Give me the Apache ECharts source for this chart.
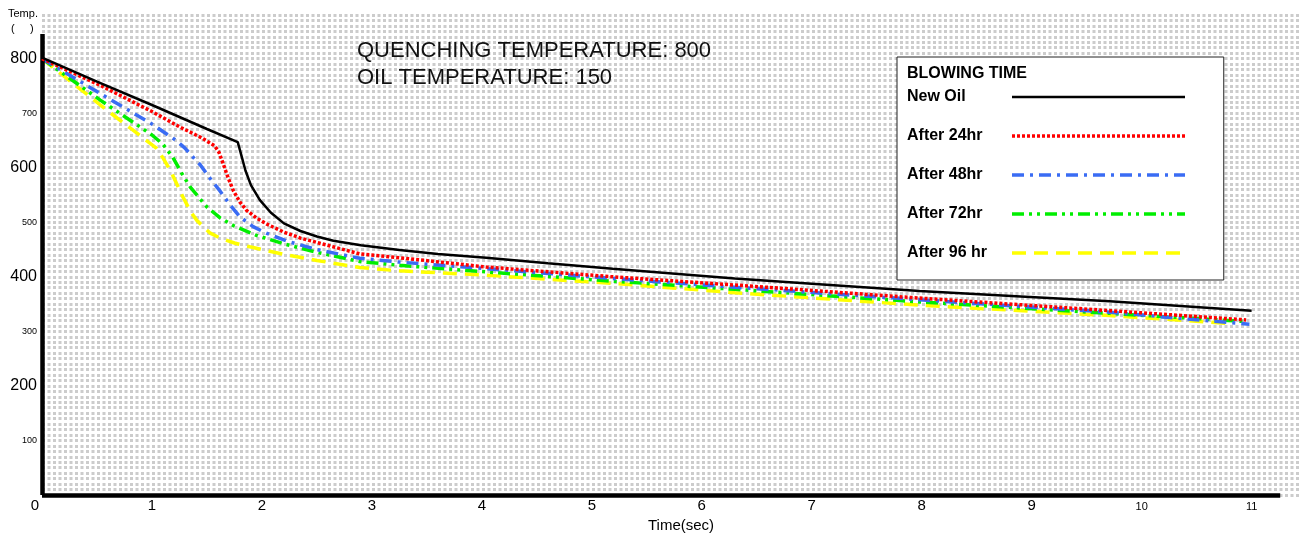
<!DOCTYPE html>
<html>
<head>
<meta charset="utf-8">
<script src="https://cdn.jsdelivr.net/npm/echarts@6/dist/echarts.min.js"></script>
<style>html,body{margin:0;padding:0;background:#fff}#c{width:1308px;height:538px}</style>
</head>
<body>
<div id="c"></div>
<script>
const seriesNames = ['New Oil', 'After 24hr', 'After 48hr', 'After 72hr', 'After 96 hr'];
const xTicks = [0,1,2,3,4,5,6,7,8,9,10,11];
const yMajorTicks = [200,400,600,800];
const yMinorTicks = [100,300,500,700];

const newOil = [[0,802],[0.5,758],[1,715],[1.5,671],[1.78,647],[1.81,625],[1.85,595],[1.9,568],[1.98,541],[2.08,518],[2.2,498],[2.35,484],[2.5,474],[2.65,466],[2.9,458],[3.25,449],[3.6,442],[4.04,435],[4.6,425],[5.19,415],[6.3,397],[7.1,386],[7.98,374],[8.9,364],[9.71,355],[11,338]];
const after24 = [[0,800],[0.53,751],[1.0,703],[1.25,675],[1.45,655],[1.57,640],[1.61,628],[1.65,606],[1.69,583],[1.74,558],[1.8,537],[1.86,522],[1.95,508],[2.04,497],[2.2,482],[2.35,471],[2.65,455],[2.89,442],[3.25,435],[4.04,418],[5.19,400],[6.3,385],[7.98,361],[9.71,338],[10.95,321]];
const after48 = [[0,800],[0.53,736],[1.0,680],[1.22,650],[1.3,636],[1.37,620],[1.44,605],[1.53,580],[1.62,557],[1.71,532],[1.8,510],[1.92,492],[2.04,480],[2.25,464],[2.5,450],[2.89,434],[3.25,427],[4.04,415],[5.19,397],[6.3,381],[7.98,358],[9.71,335],[10.98,313]];
const after72 = [[0,800],[0.53,724],[1.0,660],[1.1,643],[1.19,619],[1.27,590],[1.35,564],[1.5,528],[1.62,508],[1.74,494],[1.95,476],[2.19,461],[2.5,445],[2.89,428],[3.25,421],[4.04,409],[5.19,392],[6.3,377],[7.98,354],[9.71,333],[10.95,318]];
const after96 = [[0,800],[0.53,715],[1.04,636],[1.1,618],[1.17,594],[1.28,547],[1.35,520],[1.41,503],[1.53,480],[1.62,471],[1.75,462],[1.89,455],[2.2,441],[2.5,430],[2.89,417],[3.25,411],[4.04,403],[5.19,388],[6.3,371],[7.98,348],[9.71,329],[10.83,314]];

const FONT = '"Liberation Sans", Arial, sans-serif';
const chart = echarts.init(document.getElementById('c'));

const common = { type: 'line', symbol: 'none', smooth: false, clip: false };

chart.setOption({
  animation: false,
  backgroundColor: '#fff',
  textStyle: { fontFamily: FONT, color: '#000' },
  title: {
    text: 'QUENCHING TEMPERATURE: 800\nOIL TEMPERATURE: 150',
    left: 357, top: 37, padding: 0,
    textStyle: { fontFamily: FONT, fontSize: 22, fontWeight: 'normal', color: '#111', lineHeight: 27 }
  },
  grid: { left: 42, right: 8, top: 15, bottom: 38 },
  xAxis: {
    type: 'value', min: 0, max: 11.44, interval: 1,
    axisLine: { show: false }, axisTick: { show: false }, splitLine: { show: false },
    axisLabel: {
      margin: 3, color: '#000',
      formatter: v => {
        if (!xTicks.includes(v)) return '';
        if (v === 0) return '{z|0}';
        return v >= 10 ? '{s|' + v + '}' : '{b|' + v + '}';
      },
      rich: {
        b: { fontSize: 15, fontFamily: FONT, color: '#000' },
        s: { fontSize: 11, fontFamily: FONT, color: '#000', padding: [3, 0, 0, 0] },
        z: { fontSize: 15, fontFamily: FONT, color: '#000', padding: [0, 14, 0, 0] }
      }
    },
    name: 'Time(sec)', nameLocation: 'middle', nameGap: 23,
    nameTextStyle: { fontSize: 15, color: '#000', fontFamily: FONT, padding: [0, 0, 0, 20] }
  },
  yAxis: {
    type: 'value', min: 0, max: 880, interval: 10,
    axisLine: { show: false }, axisTick: { show: false },
    splitLine: { show: true, lineStyle: { color: '#cccccc', width: 3, type: [3, 2.5] } },
    axisLabel: {
      margin: 5, color: '#000',
      formatter: v => {
        if (yMajorTicks.includes(v)) return '{b|' + v + '}';
        if (yMinorTicks.includes(v)) return '{s|' + v + '}';
        return '';
      },
      rich: {
        b: { fontSize: 16, fontFamily: FONT, color: '#000' },
        s: { fontSize: 9, fontFamily: FONT, color: '#000' }
      }
    }
  },
  legend: {
    orient: 'vertical', left: 897, top: 57,
    backgroundColor: '#fff', borderColor: '#222', borderWidth: 1,
    padding: [32, 37, 19, 10],
    itemGap: 23, itemWidth: 173, itemHeight: 16, align: 'right',
    itemStyle: { opacity: 0 },
    formatter: name => '{a|' + name + '}',
    textStyle: {
      fontFamily: FONT, fontWeight: 'bold', fontSize: 16, color: '#000',
      rich: { a: { width: 100, align: 'left', fontFamily: FONT, fontWeight: 'bold', fontSize: 16, color: '#000' } }
    },
    data: seriesNames.map((n, i) => ({ name: n, lineStyle: { width: i === 0 ? 2.5 : 3.5 } }))
  },
  graphic: [
    { type: 'text', left: 907, top: 66, z: 100, style: { text: 'BLOWING TIME', font: 'bold 16px ' + FONT, fill: '#000' } },
    { type: 'text', left: 8, top: 8, z: 100, style: { text: 'Temp.', font: '11px ' + FONT, fill: '#000' } },
    { type: 'text', left: 11, top: 23, z: 100, style: { text: '(     )', font: '11px ' + FONT, fill: '#000' } }
  ],
  series: [
    Object.assign({}, common, {
      name: seriesNames[0], data: newOil, z: 6,
      lineStyle: { color: '#000', width: 2.5, type: 'solid' }, itemStyle: { color: '#000' },
      markLine: {
        silent: true, symbol: 'none', label: { show: false },
        lineStyle: { color: '#000', width: 4.5, type: 'solid' },
        data: [
          [{ coord: [0, 0] }, { coord: [11.26, 0] }],
          [{ coord: [0, 0] }, { coord: [0, 845] }]
        ]
      }
    }),
    Object.assign({}, common, {
      name: seriesNames[1], data: after24, z: 5,
      lineStyle: { color: '#ff0000', width: 3.5, type: [3, 2] }, itemStyle: { color: '#ff0000' }
    }),
    Object.assign({}, common, {
      name: seriesNames[2], data: after48, z: 4,
      lineStyle: { color: '#3a6cf4', width: 3.5, type: [12, 6, 3, 6] }, itemStyle: { color: '#3a6cf4' }
    }),
    Object.assign({}, common, {
      name: seriesNames[3], data: after72, z: 3,
      lineStyle: { color: '#00ee00', width: 3.5, type: [12, 5, 3, 5, 3, 5] }, itemStyle: { color: '#00ee00' }
    }),
    Object.assign({}, common, {
      name: seriesNames[4], data: after96, z: 2,
      lineStyle: { color: '#ffff00', width: 3.5, type: [14, 8] }, itemStyle: { color: '#ffff00' }
    })
  ]
});
</script>
</body>
</html>
